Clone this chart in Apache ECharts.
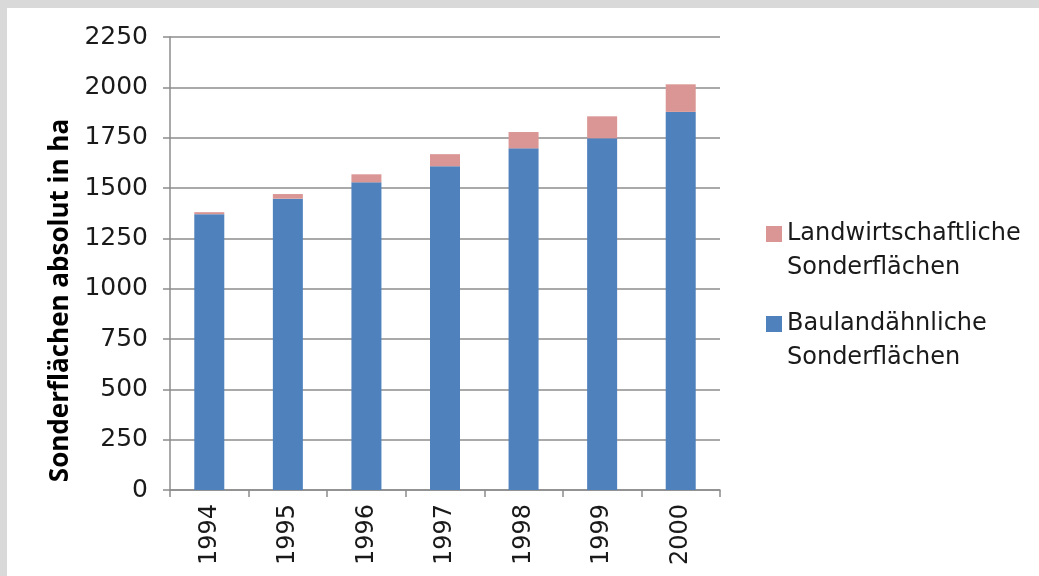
<!DOCTYPE html>
<html>
<head>
<meta charset="utf-8">
<script src="https://cdn.jsdelivr.net/npm/echarts@6/dist/echarts.min.js"></script>
<style>
  html, body { margin: 0; padding: 0; background: #d9d9d9; width: 1039px; height: 576px; overflow: hidden; }
  #chart { position: absolute; left: 7px; top: 8px; width: 1032px; height: 568px; background: #ffffff; }
</style>
</head>
<body>
<div id="chart"></div>
<script>
// Years on the category axis
const years = ['1994', '1995', '1996', '1997', '1998', '1999', '2000'];
// Building-land-like special areas (ha), bottom segment of each stack
const baulandValues = [1370, 1447, 1528, 1608, 1697, 1747, 1878];
// Agricultural special areas (ha), top segment of each stack
const landwirtschaftValues = [10, 23, 40, 60, 81, 109, 137];
// Value axis ticks
const yTicks = [0, 250, 500, 750, 1000, 1250, 1500, 1750, 2000, 2250];

const nameBauland = 'Baulandähnliche Sonderflächen';
const nameLandwirtschaft = 'Landwirtschaftliche Sonderflächen';

const axisGray = '#8c8c8c';
const chart = echarts.init(document.getElementById('chart'));
chart.setOption({
  animation: false,
  backgroundColor: '#ffffff',
  grid: { left: 163, top: 29, right: 319, bottom: 86 },
  legend: {
    orient: 'vertical',
    left: 759,
    top: 175,
    padding: 0,
    itemWidth: 16,
    itemHeight: 16,
    itemGap: -12,
    icon: 'rect',
    data: [nameLandwirtschaft, nameBauland],
    // empty first line keeps the icon level with the first text line
    formatter: function (n) { return '\n' + n.replace(' ', '\n'); },
    textStyle: {
      fontFamily: 'DejaVu Sans',
      fontSize: 24,
      color: '#1a1a1a',
      lineHeight: 34
    }
  },
  xAxis: {
    type: 'category',
    data: years,
    axisLine: { lineStyle: { color: axisGray, width: 1.5 } },
    axisTick: { show: true, length: 7, alignWithLabel: false, lineStyle: { color: axisGray, width: 1.5 } },
    axisLabel: {
      rotate: 90,
      margin: 14,
      fontFamily: 'DejaVu Sans',
      fontSize: 24,
      color: '#1a1a1a'
    }
  },
  yAxis: {
    type: 'value',
    min: yTicks[0],
    max: yTicks[yTicks.length - 1],
    interval: 250,
    name: 'Sonderflächen absolut in ha',
    nameLocation: 'middle',
    nameGap: 95,
    nameTextStyle: {
      fontFamily: 'Open Sans',
      fontWeight: 'bold',
      fontSize: 26,
      color: '#000000',
      padding: [0, 74, 0, 0]
    },
    axisLine: { show: true, lineStyle: { color: axisGray, width: 1.5 } },
    axisTick: { show: true, length: 7, lineStyle: { color: axisGray, width: 1.5 } },
    splitLine: { lineStyle: { color: axisGray, width: 1.5 } },
    axisLabel: {
      margin: 22,
      fontFamily: 'DejaVu Sans',
      fontSize: 25,
      color: '#1a1a1a',
      formatter: function (v) { return String(v); }
    }
  },
  series: [
    {
      name: nameBauland,
      type: 'bar',
      stack: 'total',
      barWidth: 30,
      data: baulandValues,
      itemStyle: { color: '#4f81bd' }
    },
    {
      name: nameLandwirtschaft,
      type: 'bar',
      stack: 'total',
      barWidth: 30,
      data: landwirtschaftValues,
      itemStyle: { color: '#d99694' }
    }
  ]
});
</script>
</body>
</html>
